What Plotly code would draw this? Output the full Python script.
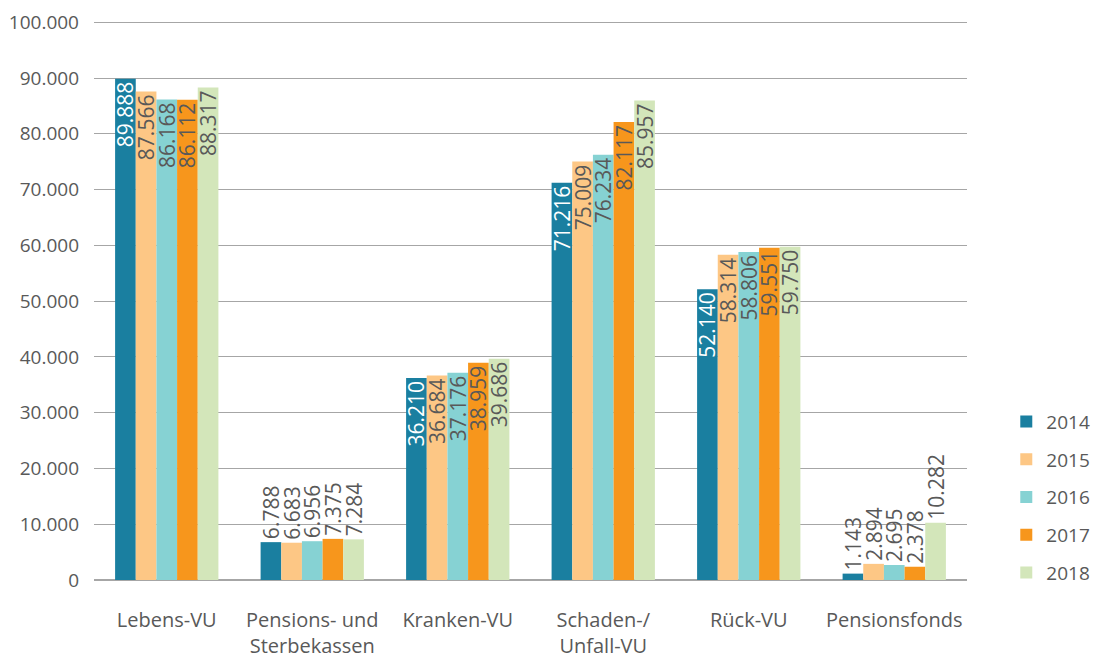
import plotly.graph_objects as go

categories = ["Lebens-VU", "Pensions- und<br>Sterbekassen", "Kranken-VU",
              "Schaden-/<br>Unfall-VU", "Rück-VU", "Pensionsfonds"]
years = ["2014", "2015", "2016", "2017", "2018"]
v2014 = [89888, 6788, 36210, 71216, 52140, 1143]
v2015 = [87566, 6683, 36684, 75009, 58314, 2894]
v2016 = [86168, 6956, 37176, 76234, 58806, 2695]
v2017 = [86112, 7375, 38959, 82117, 59551, 2378]
v2018 = [88317, 7284, 39686, 85957, 59750, 10282]
series = [v2014, v2015, v2016, v2017, v2018]
colors = ["#1a7fa0", "#fdc785", "#86d2d3", "#f7961c", "#d3e6ba"]
inside_colors = ["#ffffff", "#595959", "#595959", "#595959", "#595959"]

FONT = "Open Sans"
GRAY = "#595959"
FS = 19
BFS = 21

fig = go.Figure()
for name, vals, col, icol in zip(years, series, colors, inside_colors):
    pos = ["inside" if v > 20000 else "outside" for v in vals]
    fig.add_trace(go.Bar(
        name=name, legendgroup=name, x=categories, y=vals, marker_color=col, marker_line_width=0,
        text=vals, texttemplate="%{y:,}", textposition=pos, textangle=-90,
        insidetextanchor="end", constraintext="none", cliponaxis=False,
        insidetextfont=dict(color=icol, size=BFS, family=FONT),
        outsidetextfont=dict(color=GRAY, size=BFS, family=FONT),
    ))

fig.update_layout(
    width=1110, height=669, barmode="group", bargap=0.29, bargroupgap=0,
    separators=",.",
    plot_bgcolor="white", paper_bgcolor="white",
    margin=dict(l=86, r=151, t=12, b=97),
    font=dict(family=FONT, size=FS, color=GRAY),
    xaxis=dict(showgrid=False, showline=False, ticks="", automargin=False,
               ticklabelstandoff=26, tickfont=dict(size=20, color=GRAY)),
    yaxis=dict(range=[0, 100400], tickvals=list(range(0, 100001, 10000)), tickformat=",d", showgrid=True,
               gridcolor="#a6a6a6", gridwidth=1, zeroline=True, zerolinecolor="#a6a6a6",
               zerolinewidth=2, ticks="", ticklabelstandoff=14, automargin=False,
               tickfont=dict(size=FS, color=GRAY)),
    legend=dict(x=1.045, xanchor="left", y=-0.021, yanchor="bottom", tracegroupgap=10,
                font=dict(size=FS, color=GRAY), itemwidth=30),
    showlegend=True,
)

fig.write_html("out.html")
